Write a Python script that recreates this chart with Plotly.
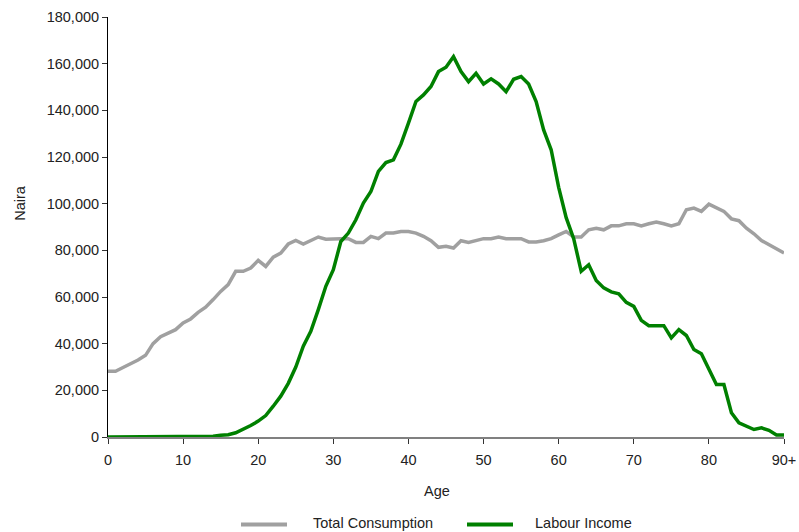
import plotly.graph_objects as go

ages = list(range(0, 91))

total_consumption = [
    28.2, 28.2, 29.8, 31.3, 33.0, 35.0, 40.0, 43.0, 44.5, 46.0,
    48.9, 50.6, 53.4, 55.6, 58.9, 62.4, 65.3, 71.0, 71.0, 72.4,
    75.7, 73.1, 77.1, 78.8, 82.7, 84.2, 82.7, 84.2, 85.7, 84.8,
    85.0, 85.0, 85.0, 83.4, 83.4, 86.0, 85.0, 87.4, 87.4, 88.1,
    88.1, 87.4, 86.0, 84.1, 81.3, 81.7, 81.0, 84.1, 83.4, 84.1,
    85.0, 85.0, 85.7, 85.0, 85.0, 85.0, 83.6, 83.6, 84.1, 85.0,
    86.6, 88.1, 85.7, 85.7, 88.8, 89.5, 88.8, 90.5, 90.5, 91.4,
    91.4, 90.5, 91.4, 92.1, 91.4, 90.5, 91.4, 97.4, 98.1, 96.7,
    99.8, 98.1, 96.7, 93.5, 92.7, 89.5, 87.1, 84.2, 82.4, 81.0,
    78.9,
]

labour_income = [
    0, 0, 0, 0, 0, 0, 0, 0, 0, 0,
    0, 0, 0, 0, 0.3, 0.8, 1.0, 1.8, 3.2, 4.9,
    6.8, 9.2, 13.2, 17.5, 23.0, 30.0, 38.9, 45.3, 54.6, 64.6,
    71.7, 83.8, 87.4, 93.1, 100.3, 105.2, 113.8, 117.6, 118.8, 125.5,
    134.5, 143.8, 146.6, 150.2, 156.6, 158.5, 163.0, 156.6, 152.3, 155.9,
    151.3, 153.5, 151.3, 148.0, 153.3, 154.5, 151.3, 143.8, 131.6, 123.1,
    107.0, 94.0, 85.0, 71.0, 73.8, 67.1, 63.9, 62.2, 61.4, 57.7,
    56.0, 50.0, 47.7, 47.7, 47.7, 42.5, 46.0, 43.5, 37.5, 35.7,
    28.9, 22.5, 22.5, 10.4, 6.1, 4.6, 3.2, 3.9, 2.9, 0.9,
    0.9,
]

series_names = ["Total Consumption", "Labour Income"]
series_colors = ["#A0A0A0", "#008000"]

tick_vals = [0, 10, 20, 30, 40, 50, 60, 70, 80, 90]
tick_text = ["0", "10", "20", "30", "40", "50", "60", "70", "80", "90+"]
y_ticks = list(range(0, 180001, 20000))

FONT = "Liberation Sans, Arial, sans-serif"
TXT = "#222222"
FS = 14.5

W, H = 799, 532
L, R, T, B = 108, 15, 17, 94.5
PW = W - L - R
PH = H - T - B


def px_x(px):
    return (px - L) / PW


def px_y(py):
    return (H - B - py) / PH


fig = go.Figure()
for name, color, vals in zip(series_names, series_colors,
                             [total_consumption, labour_income]):
    fig.add_trace(go.Scatter(
        x=ages, y=[v * 1000 for v in vals],
        mode="lines", name=name,
        line=dict(color=color, width=3.5),
        cliponaxis=False, showlegend=False, hoverinfo="skip",
    ))

# manual legend (samples + labels)
legend_items = [(241, 287, 311), (467, 513, 533)]
shapes = []
annotations = []
for (x0, x1, tx), name, color in zip(legend_items, series_names, series_colors):
    shapes.append(dict(type="line", xref="paper", yref="paper",
                       x0=px_x(x0), x1=px_x(x1), y0=px_y(525), y1=px_y(525),
                       line=dict(color=color, width=4)))
    annotations.append(dict(text=name, xref="paper", yref="paper",
                            x=px_x(tx), y=px_y(524), xanchor="left",
                            yanchor="middle", showarrow=False,
                            font=dict(family=FONT, size=FS, color=TXT)))

annotations.append(dict(text="Age", xref="paper", yref="paper",
                        x=px_x(437), y=px_y(492), xanchor="center",
                        yanchor="middle", showarrow=False,
                        font=dict(family=FONT, size=FS, color=TXT)))
annotations.append(dict(text="Naira", xref="paper", yref="paper",
                        x=px_x(20), y=px_y(203), xanchor="center",
                        yanchor="middle", showarrow=False, textangle=-90,
                        font=dict(family=FONT, size=FS, color=TXT)))

fig.update_layout(
    width=W, height=H,
    margin=dict(l=L, r=R, t=T, b=B, autoexpand=False),
    paper_bgcolor="white", plot_bgcolor="white",
    font=dict(family=FONT, size=FS, color=TXT),
    showlegend=False,
    hovermode=False,
    shapes=shapes,
    annotations=annotations,
    xaxis=dict(
        range=[0, 90], tickvals=tick_vals, ticktext=tick_text,
        showgrid=False, zeroline=False, automargin=False,
        showline=True, linecolor="#808080", linewidth=1.5,
        ticks="outside", ticklen=5, tickcolor="#333333", tickwidth=1,
        ticklabelstandoff=4,
    ),
    yaxis=dict(
        range=[0, 180000], tickvals=y_ticks, tickformat=",d",
        showgrid=False, zeroline=False, automargin=False,
        showline=True, linecolor="#000000", linewidth=1,
        ticks="outside", ticklen=5, tickcolor="#333333", tickwidth=1,
    ),
)

fig.write_html(
    "out.html",
    config={"displayModeBar": False},
    post_script="document.body.style.margin='0';document.body.style.overflow='hidden';",
)
